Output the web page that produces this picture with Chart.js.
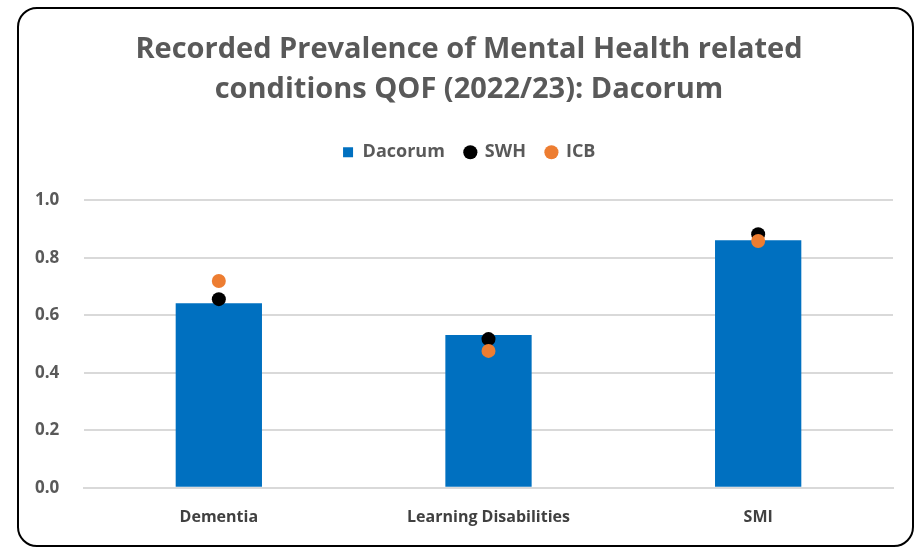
<!DOCTYPE html>
<html>
<head>
<meta charset="utf-8">
<script src="https://cdn.jsdelivr.net/npm/chart.js@4"></script>
<style>
  body { margin: 0; background: #fff; }
  .frame {
    position: absolute; left: 17px; top: 7px;
    width: 893px; height: 536px;
    border: 2px solid #000; border-radius: 20px;
    overflow: hidden; background: #fff;
  }
  canvas { display: block; }
</style>
</head>
<body>
<div class="frame"><canvas id="qof-chart" width="893" height="536"></canvas></div>
<script>
const categories = ['Dementia', 'Learning Disabilities', 'SMI'];
const dacorum = [0.642, 0.531, 0.861];
const swh = [0.656, 0.517, 0.882];
const icb = [0.719, 0.476, 0.858];
const yTicks = [0.0, 0.2, 0.4, 0.6, 0.8, 1.0];

const fontFamily = "'Open Sans', 'Noto Sans', sans-serif";
const grey = '#595959';

// extra room under the legend, like the original
const legendMargin = {
	id: 'legendMargin',
	beforeInit(chart) {
		const fit = chart.legend.fit;
		chart.legend.fit = function () {
			fit.bind(chart.legend)();
			this.height += 29;
		};
	},
};

const ctx = document.getElementById('qof-chart');

new Chart(ctx, {
	type: 'bar',
	data: {
		labels: categories,
		datasets: [
			{
				label: 'Dacorum',
				data: dacorum,
				backgroundColor: '#0070C0',
				borderWidth: 0,
				categoryPercentage: 1.0,
				barPercentage: 0.32,
				order: 3,
				pointStyle: 'rect',
			},
			{
				type: 'line',
				label: 'SWH',
				data: swh,
				showLine: false,
				pointRadius: 7,
				pointHoverRadius: 7,
				pointBackgroundColor: '#000000',
				pointBorderWidth: 0,
				backgroundColor: '#000000',
				borderColor: '#000000',
				order: 2,
				pointStyle: 'circle',
			},
			{
				type: 'line',
				label: 'ICB',
				data: icb,
				showLine: false,
				pointRadius: 7,
				pointHoverRadius: 7,
				pointBackgroundColor: '#ED7D31',
				pointBorderWidth: 0,
				backgroundColor: '#ED7D31',
				borderColor: '#ED7D31',
				order: 1,
				pointStyle: 'circle',
			},
		],
	},
	plugins: [legendMargin],
	options: {
		animation: false,
		responsive: false,
		layout: { padding: { left: 26, right: 19, top: 12, bottom: -2 } },
		plugins: {
			title: {
				display: true,
				text: ['Recorded Prevalence of Mental Health related', 'conditions QOF (2022/23): Dacorum'],
				color: grey,
				font: { family: fontFamily, size: 29, weight: 'bold', lineHeight: 1.4 },
				padding: { top: 8, bottom: 13 },
			},
			legend: {
				display: true,
				labels: {
					usePointStyle: true,
					boxWidth: 11,
					boxHeight: 10,
					padding: 20,
					color: grey,
					font: { family: fontFamily, size: 18, weight: 'bold' },
					sort: (a, b) => a.datasetIndex - b.datasetIndex,
				},
			},
			tooltip: { enabled: false },
		},
		scales: {
			x: {
				grid: { display: false, drawTicks: false },
				border: { display: true, color: '#d9d9d9', width: 2 },
				ticks: {
					color: '#404040',
					padding: 20,
					font: { family: fontFamily, size: 16, weight: 'bold' },
				},
			},
			y: {
				min: 0,
				max: 1,
				afterBuildTicks: (axis) => { axis.ticks = yTicks.map(v => ({ value: v })); },
				afterFit: (axis) => { axis.width = 39; },
				grid: { color: '#d9d9d9', lineWidth: 2, drawTicks: false },
				border: { display: false },
				ticks: {
					color: grey,
					mirror: true,
					crossAlign: 'near',
					padding: -49,
					font: { family: fontFamily, size: 17, weight: 'bold' },
					callback: (v) => Number(v).toFixed(1),
				},
			},
		},
	},
});
</script>
</body>
</html>
